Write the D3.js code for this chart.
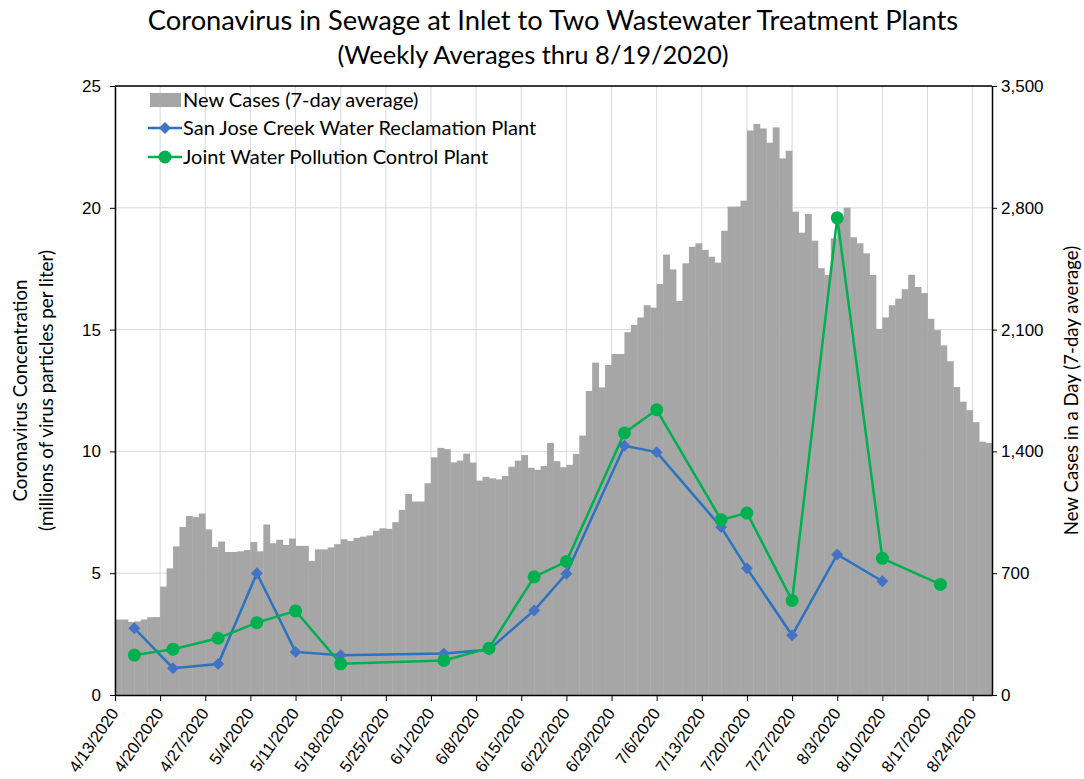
<!DOCTYPE html>
<html>
<head>
<meta charset="utf-8">
<script src="https://cdn.jsdelivr.net/npm/d3@7"></script>
<style>
  body { margin: 0; background: #fff; }
  svg { display: block; font-family: Lato, "Open Sans", sans-serif; }
  .grid line { stroke: #d9d9d9; stroke-width: 1; }
  .axis path, .axis line { stroke: #000; }
  .axis text { fill: #000; font-size: 17px; }
</style>
</head>
<body>
<svg id="chart" width="1084" height="779"></svg>
<script>
// daily new cases (7-day average), starting 4/13/2020
const firstDay = "4/13/2020";
const newCases = [
  434, 434, 420, 423, 434, 447, 448, 623, 728, 854, 966, 1029, 1022, 1043,
  952, 850, 882, 822, 822, 826, 833, 879, 826, 980, 872, 892, 862, 899,
  857, 857, 771, 837, 837, 848, 867, 895, 885, 903, 910, 917, 944, 958,
  955, 993, 1064, 1155, 1112, 1112, 1217, 1366, 1420, 1413, 1337, 1347, 1387, 1336,
  1232, 1254, 1245, 1239, 1259, 1312, 1347, 1379, 1306, 1294, 1316, 1449, 1344, 1309,
  1323, 1386, 1491, 1747, 1910, 1768, 1897, 1960, 1960, 2085, 2127, 2170, 2240, 2226,
  2362, 2531, 2446, 2264, 2481, 2576, 2596, 2558, 2519, 2485, 2668, 2807, 2807, 2841,
  3244, 3282, 3256, 3174, 3262, 3084, 3128, 2778, 2657, 2764, 2611, 2453, 2414, 2624,
  2750, 2801, 2631, 2596, 2538, 2414, 2104, 2170, 2240, 2278, 2332, 2415, 2345, 2310,
  2162, 2097, 2009, 1918, 1770, 1686, 1637, 1568, 1456, 1449
];

const sampleDates = ["4/16/2020", "4/22/2020", "4/29/2020", "5/5/2020", "5/11/2020", "5/18/2020",
  "6/3/2020", "6/10/2020", "6/17/2020", "6/22/2020", "7/1/2020", "7/6/2020", "7/16/2020",
  "7/20/2020", "7/27/2020", "8/3/2020", "8/10/2020", "8/19/2020"];
const sanJose = [2.74, 1.1, 1.27, 5.0, 1.77, 1.63, 1.7, 1.86, 3.47, 4.98, 10.23, 9.97, 6.89, 5.2, 2.45, 5.77, 4.67];
const jointPlant = [1.64, 1.88, 2.33, 2.97, 3.45, 1.28, 1.42, 1.92, 4.85, 5.48, 10.76, 11.71, 7.19, 7.47, 3.88, 19.59, 5.61, 4.54];

const weekTicks = ["4/13/2020", "4/20/2020", "4/27/2020", "5/4/2020", "5/11/2020", "5/18/2020",
  "5/25/2020", "6/1/2020", "6/8/2020", "6/15/2020", "6/22/2020", "6/29/2020", "7/6/2020",
  "7/13/2020", "7/20/2020", "7/27/2020", "8/3/2020", "8/10/2020", "8/17/2020", "8/24/2020"];
const concTicks = [0, 5, 10, 15, 20, 25];
const caseTicks = [0, 700, 1400, 2100, 2800, 3500];

const svg = d3.select("#chart");
const W = 1084, H = 779;
const plot = { left: 115, right: 992, top: 86, bottom: 695 };
const parse = d3.utcParse("%m/%d/%Y");
const start = parse(firstDay);

svg.append("rect").attr("width", W).attr("height", H).attr("fill", "#fff");

const x = d3.scaleUtc()
  .domain([start, d3.utcDay.offset(start, newCases.length)])
  .range([plot.left, plot.right]);
const yConc = d3.scaleLinear().domain([0, 25]).range([plot.bottom, plot.top]);
const yCases = d3.scaleLinear().domain([0, 3500]).range([plot.bottom, plot.top]);

// gridlines (behind bars)
const grid = svg.append("g").attr("class", "grid");
grid.selectAll(".h").data(concTicks).enter().append("line")
  .attr("x1", plot.left).attr("x2", plot.right)
  .attr("y1", d => yConc(d)).attr("y2", d => yConc(d));
grid.selectAll(".v").data(weekTicks.map(parse)).enter().append("line")
  .attr("x1", d => x(d)).attr("x2", d => x(d))
  .attr("y1", plot.top).attr("y2", plot.bottom);

// new cases bars, one per day, no gap
const bars = newCases.map((v, i) => ({ date: d3.utcDay.offset(start, i), v }));
svg.append("g").selectAll("rect").data(bars).enter().append("rect")
  .attr("x", d => x(d.date))
  .attr("width", d => x(d3.utcDay.offset(d.date, 1)) - x(d.date) + 0.4)
  .attr("y", d => yCases(d.v))
  .attr("height", d => yCases(0) - yCases(d.v))
  .attr("fill", "#a6a6a6");

// axes
const fmt = d3.format(",");
svg.append("g").attr("class", "axis")
  .attr("transform", `translate(${plot.left},0)`)
  .call(d3.axisLeft(yConc).tickValues(concTicks).tickSize(5).tickPadding(9).tickSizeOuter(0))
  .select(".domain").attr("stroke-width", 1.5);
svg.append("g").attr("class", "axis")
  .attr("transform", `translate(${plot.right},0)`)
  .call(d3.axisRight(yCases).tickValues(caseTicks).tickFormat(fmt).tickSize(5).tickPadding(4).tickSizeOuter(0))
  .select(".domain").attr("stroke-width", 1.5);

const xAxis = svg.append("g").attr("class", "axis")
  .attr("transform", `translate(0,${plot.bottom})`)
  .call(d3.axisBottom(x).tickValues(weekTicks.map(parse)).tickSize(6).tickSizeOuter(0).tickFormat(d3.utcFormat("%-m/%-d/%Y")));
xAxis.select(".domain").attr("stroke-width", 1.5);
xAxis.selectAll("text")
  .attr("text-anchor", "end")
  .attr("x", 0).attr("y", 0).attr("dy", "0.35em")
  .attr("transform", "translate(-1,15) rotate(-55)")
  .style("font-size", "16.5px");

// top border of plot area
svg.append("line")
  .attr("x1", plot.left).attr("x2", plot.right)
  .attr("y1", plot.top).attr("y2", plot.top)
  .attr("stroke", "#000").attr("stroke-width", 1.5);

// concentration lines
const sjPts = sanJose.map((v, i) => ({ date: parse(sampleDates[i]), v }));
const jwPts = jointPlant.map((v, i) => ({ date: parse(sampleDates[i]), v }));
const line = d3.line().x(d => x(d.date)).y(d => yConc(d.v));

svg.append("path").datum(sjPts)
  .attr("d", line).attr("fill", "none")
  .attr("stroke", "#2b72c0").attr("stroke-width", 2.5);
svg.append("path").datum(jwPts)
  .attr("d", line).attr("fill", "none")
  .attr("stroke", "#00b050").attr("stroke-width", 2.5);

const diamond = d3.symbol().type(d3.symbolDiamond2).size(90);
svg.append("g").selectAll("path").data(sjPts).enter().append("path")
  .attr("d", diamond)
  .attr("transform", d => `translate(${x(d.date)},${yConc(d.v)})`)
  .attr("fill", "#4472c4");
svg.append("g").selectAll("circle").data(jwPts).enter().append("circle")
  .attr("cx", d => x(d.date)).attr("cy", d => yConc(d.v))
  .attr("r", 6.5).attr("fill", "#00b050");

// legend
const legend = svg.append("g").attr("transform", "translate(148,100)");
const legendFont = "20px";
legend.append("rect").attr("x", 2).attr("y", -7).attr("width", 31).attr("height", 14).attr("fill", "#a6a6a6");
legend.append("text").attr("x", 35).attr("y", 0).attr("dy", "0.35em").style("font-size", legendFont)
  .text("New Cases (7-day average)");

legend.append("line").attr("x1", 0).attr("x2", 34).attr("y1", 28).attr("y2", 28)
  .attr("stroke", "#2b72c0").attr("stroke-width", 2.5);
legend.append("path").attr("d", diamond).attr("transform", "translate(17,28)").attr("fill", "#4472c4");
legend.append("text").attr("x", 35).attr("y", 28).attr("dy", "0.35em").style("font-size", legendFont)
  .text("San Jose Creek Water Reclamation Plant");

legend.append("line").attr("x1", 0).attr("x2", 34).attr("y1", 57).attr("y2", 57)
  .attr("stroke", "#00b050").attr("stroke-width", 2.5);
legend.append("circle").attr("cx", 17).attr("cy", 57).attr("r", 6.5).attr("fill", "#00b050");
legend.append("text").attr("x", 35).attr("y", 57).attr("dy", "0.35em").style("font-size", legendFont)
  .text("Joint Water Pollution Control Plant");

// titles
svg.append("text").attr("x", 553).attr("y", 30).attr("text-anchor", "middle")
  .style("font-size", "27.3px")
  .text("Coronavirus in Sewage at Inlet to Two Wastewater Treatment Plants");
svg.append("text").attr("x", 533).attr("y", 64).attr("text-anchor", "middle")
  .style("font-size", "25.5px")
  .text("(Weekly Averages thru 8/19/2020)");

const midY = (plot.top + plot.bottom) / 2;
svg.append("text").attr("transform", `translate(27,${midY}) rotate(-90)`)
  .attr("text-anchor", "middle").style("font-size", "18.8px")
  .text("Coronavirus Concentration");
svg.append("text").attr("transform", `translate(53,${midY}) rotate(-90)`)
  .attr("text-anchor", "middle").style("font-size", "18.8px")
  .text("(millions of virus particles per liter)");
svg.append("text").attr("transform", `translate(1078,${midY}) rotate(-90)`)
  .attr("text-anchor", "middle").style("font-size", "18.6px")
  .text("New Cases in a Day (7-day average)");
</script>
</body>
</html>
